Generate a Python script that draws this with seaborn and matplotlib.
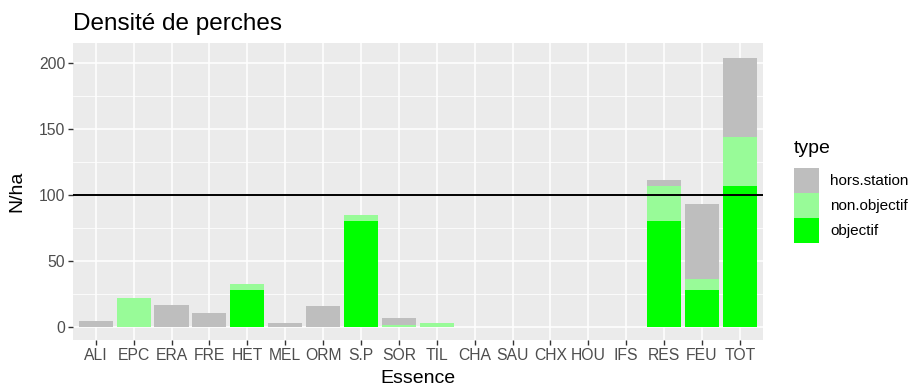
import matplotlib
matplotlib.use("Agg")
import matplotlib.pyplot as plt
from matplotlib.patches import Patch
from matplotlib.ticker import MultipleLocator
import seaborn as sns
import numpy as np
import pandas as pd

# Data (N/ha per species and type)
essences = ["ALI", "EPC", "ERA", "FRE", "HET", "MEL", "ORM", "S.P", "SOR", "TIL",
            "CHA", "SAU", "CHX", "HOU", "IFS", "RES", "FEU", "TOT"]
objectif = [0, 0, 0, 0, 28, 0, 0, 80, 0, 0, 0, 0, 0, 0, 0, 80, 28, 107]
non_objectif = [0, 21.5, 0, 0, 4, 0, 0, 4.5, 1.5, 2.5, 0, 0, 0, 0, 0, 27, 8, 37]
hors_station = [4, 0, 16.7, 10, 0, 2.5, 15.2, 0, 5, 0, 0, 0, 0, 0, 0, 4, 57, 60]
seuil = 100

type_levels = ["hors.station", "non.objectif", "objectif"]
type_colors = {"hors.station": "#BEBEBE", "non.objectif": "#98FB98", "objectif": "#00FF00"}

df = pd.DataFrame({"Essence": essences, "objectif": objectif,
                   "non.objectif": non_objectif, "hors.station": hors_station})
# cumulative heights for stacking (objectif at bottom)
df["cum_obj"] = df["objectif"]
df["cum_non"] = df["cum_obj"] + df["non.objectif"]
df["cum_hors"] = df["cum_non"] + df["hors.station"]

plt.rcParams["font.family"] = ["Liberation Sans", "DejaVu Sans"]

fig = plt.figure(figsize=(9.17, 3.90), dpi=100)
ax = fig.add_axes([0.0796, 0.128, 0.752, 0.762])
ax.set_facecolor("#EBEBEB")

# draw tallest first so the lower segments overlay it
for col, t in [("cum_hors", "hors.station"), ("cum_non", "non.objectif"), ("cum_obj", "objectif")]:
    sns.barplot(data=df, x="Essence", y=col, order=essences, color=type_colors[t],
                width=0.9, linewidth=0, saturation=1, ax=ax, zorder=2)

ax.axhline(seuil, color="black", linewidth=1.4, zorder=3)

ax.set_xlim(-0.6, len(essences) - 0.4)
ax.set_ylim(-10.3, 215.3)
ax.yaxis.set_major_locator(MultipleLocator(50))
ax.yaxis.set_minor_locator(MultipleLocator(25))
ax.grid(which="major", color="white", linewidth=1.1, zorder=0)
ax.grid(which="minor", axis="y", color="white", linewidth=0.55, zorder=0)
ax.set_axisbelow(True)
for s in ax.spines.values():
    s.set_visible(False)
ax.tick_params(axis="both", which="major", colors="#333333", length=3.5, width=1,
               labelsize=11.3, labelcolor="#4D4D4D", pad=2)
ax.tick_params(axis="y", which="minor", length=0)

ax.set_xlabel("Essence", fontsize=14, color="black", labelpad=5)
ax.set_ylabel("N/ha", fontsize=14, color="black", labelpad=10)
ax.set_title("Densité de perches", fontsize=17.5, loc="left", pad=9, color="black")

handles = [Patch(facecolor=type_colors[t], edgecolor="none") for t in type_levels]
leg = fig.legend(handles, type_levels, title="type", loc="upper left",
                 bbox_to_anchor=(0.866, 0.642), frameon=False, fontsize=11,
                 title_fontsize=14, handlelength=1.6, handleheight=2.15,
                 labelspacing=0.0, handletextpad=0.75, alignment="left",
                 borderaxespad=0, borderpad=0)
leg._legend_box.sep = 8  # gap between legend title and keys

fig.savefig("out.png", dpi=100)
